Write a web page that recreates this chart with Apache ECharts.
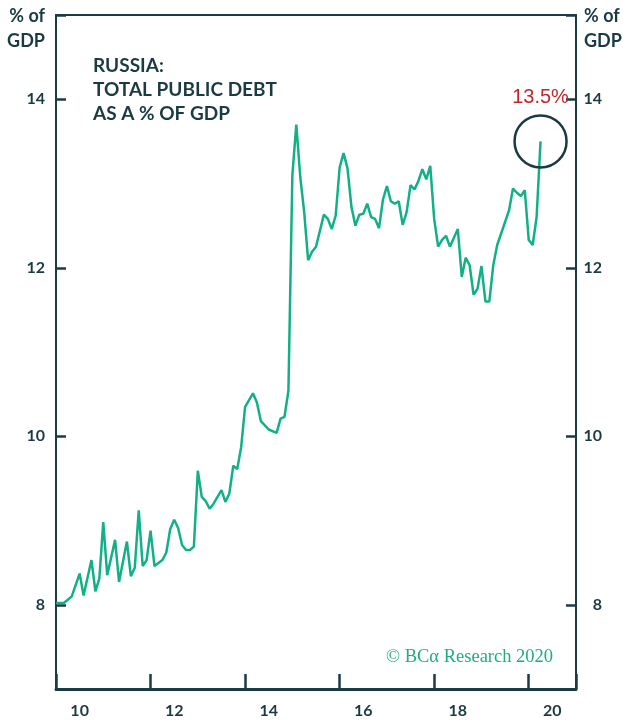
<!DOCTYPE html>
<html>
<head>
<meta charset="utf-8">
<script src="https://cdn.jsdelivr.net/npm/echarts@6/dist/echarts.min.js"></script>
<style>
  html, body { margin: 0; padding: 0; background: #ffffff; }
  #chart { width: 623px; height: 722px; }
</style>
</head>
<body>
<div id="chart"></div>
<script>
// Russia: total public debt, % of GDP (monthly readings)
const months = [
  '2010-01','2010-03','2010-05','2010-07','2010-08','2010-10','2010-11','2010-12',
  '2011-01','2011-02','2011-04','2011-05','2011-07','2011-08','2011-09','2011-10','2011-11','2011-12',
  '2012-01','2012-02','2012-04','2012-05','2012-06','2012-07','2012-08','2012-09','2012-10','2012-11','2012-12',
  '2013-01','2013-02','2013-03','2013-04','2013-05','2013-07','2013-08','2013-09','2013-10','2013-11','2013-12',
  '2014-01','2014-03','2014-04','2014-05','2014-07','2014-09','2014-10','2014-11','2014-12',
  '2015-01','2015-02','2015-03','2015-04','2015-05','2015-06','2015-07','2015-09','2015-10','2015-11','2015-12',
  '2016-01','2016-02','2016-03','2016-04','2016-05','2016-06','2016-07','2016-08','2016-09','2016-10','2016-11','2016-12',
  '2017-01','2017-02','2017-03','2017-04','2017-05','2017-06','2017-07','2017-08','2017-09','2017-10','2017-11','2017-12',
  '2018-01','2018-02','2018-03','2018-04','2018-05','2018-07','2018-08','2018-09','2018-10','2018-11','2018-12',
  '2019-01','2019-02','2019-03','2019-04','2019-05','2019-08','2019-09','2019-10','2019-11','2019-12',
  '2020-01','2020-02','2020-03','2020-04'
];
const debtPctGdp = [
  8.02, 8.02, 8.10, 8.37, 8.11, 8.53, 8.16, 8.31,
  8.98, 8.35, 8.77, 8.27, 8.75, 8.34, 8.44, 9.12, 8.46, 8.53,
  8.88, 8.46, 8.53, 8.62, 8.90, 9.01, 8.91, 8.71, 8.65, 8.65, 8.69,
  9.59, 9.28, 9.23, 9.14, 9.20, 9.36, 9.22, 9.32, 9.65, 9.61, 9.87,
  10.35, 10.51, 10.40, 10.18, 10.08, 10.04, 10.21, 10.23, 10.54,
  13.10, 13.70, 13.08, 12.66, 12.09, 12.19, 12.25, 12.63, 12.58, 12.46, 12.62,
  13.19, 13.36, 13.18, 12.72, 12.50, 12.63, 12.64, 12.76, 12.60, 12.58, 12.47, 12.81,
  12.97, 12.79, 12.76, 12.79, 12.51, 12.66, 12.98, 12.93, 13.03, 13.17, 13.05, 13.21,
  12.58, 12.25, 12.33, 12.38, 12.25, 12.46, 11.89, 12.12, 12.03, 11.68, 11.75,
  12.02, 11.60, 11.60, 12.03, 12.27, 12.68, 12.94, 12.89, 12.85, 12.92,
  12.33, 12.27, 12.60, 13.5
];
const yearLabels = ['10','11','12','13','14','15','16','17','18','19','20'];
const yTickValues = [8, 10, 12, 14, 15];
const yLabelValues = [8, 10, 12, 14];
const titleLines = ['RUSSIA:', 'TOTAL PUBLIC DEBT', 'AS A % OF GDP'];
const unitLines = ['% of', 'GDP'];
const sourceNote = '\u00A9 BC\u03B1 Research 2020';

const INK = '#1b3b44';
const GREEN = '#12b087';
const RED = '#c1272d';
const SANS = 'Lato, "Noto Sans", sans-serif';

// 'YYYY-MM' -> decimal year (month start)
function toYear(s) {
  const [y, m] = s.split('-').map(Number);
  return y + (m - 1) / 12;
}
const points = months.map((m, i) => [toYear(m), debtPctGdp[i]]);
const last = points[points.length - 1];

const chart = echarts.init(document.getElementById('chart'), null, { renderer: 'canvas' });

function yAxisCfg(pos) {
  const left = pos === 'left';
  return {
    type: 'value',
    position: pos,
    min: 7,
    max: 15,
    splitLine: { show: false },
    axisLine: { show: true, onZero: false, lineStyle: { color: INK, width: 2 } },
    axisTick: {
      show: true, inside: true, length: 10,
      customValues: yTickValues,
      lineStyle: { color: INK, width: 2.5 }
    },
    axisLabel: {
      show: true,
      customValues: yLabelValues,
      color: INK,
      fontFamily: SANS,
      fontWeight: 'bold',
      fontSize: 16,
      align: 'right',
      margin: left ? 11 : 26
    }
  };
}

const textEl = (text, x, y, align, font, fill) => ({
  type: 'text',
  x: x, y: y,
  style: { text: text, align: align, verticalAlign: 'middle', font: font, fill: fill }
});

const graphics = [];
unitLines.forEach((t, i) => {
  graphics.push(textEl(t, 45, 16 + i * 25, 'right', 'bold 18px ' + SANS, INK));
  graphics.push(textEl(t, 584, 16 + i * 25, 'left', 'bold 18px ' + SANS, INK));
});
titleLines.forEach((t, i) => {
  graphics.push(textEl(t, 93, 66 + i * 24, 'left', 'bold 19px ' + SANS, INK));
});
graphics.push(textEl(sourceNote, 386, 657, 'left', '18.5px "Liberation Serif", "DejaVu Serif", serif', '#1fae80'));

chart.setOption({
  animation: false,
  backgroundColor: '#ffffff',
  grid: { left: 56, right: 47, top: 15, bottom: 33 },
  xAxis: [
    {
      type: 'category',
      position: 'bottom',
      data: yearLabels,
      boundaryGap: true,
      axisLine: { show: true, lineStyle: { color: INK, width: 3 } },
      axisTick: { show: true, inside: true, length: 15, alignWithLabel: false, lineStyle: { color: INK, width: 2.5 } },
      axisLabel: {
        interval: 1, color: INK, fontFamily: SANS, fontWeight: 'bold', fontSize: 16, margin: 14
      },
      splitLine: { show: false }
    },
    {
      type: 'value',
      position: 'top',
      min: 2010,
      max: 2021,
      axisLine: { show: true, onZero: false, lineStyle: { color: INK, width: 2 } },
      axisTick: { show: false },
      axisLabel: { show: false },
      splitLine: { show: false }
    }
  ],
  yAxis: [yAxisCfg('left'), yAxisCfg('right')],
  series: [
    {
      type: 'line',
      xAxisIndex: 1,
      yAxisIndex: 0,
      data: points,
      showSymbol: false,
      lineStyle: { color: GREEN, width: 2.5 },
      itemStyle: { color: GREEN },
      markPoint: {
        silent: true,
        data: [{
          coord: last,
          symbol: 'circle',
          symbolSize: 52,
          itemStyle: { color: 'rgba(0,0,0,0)', borderColor: INK, borderWidth: 2.5 },
          label: {
            show: true,
            position: 'top',
            distance: 7,
            formatter: last[1].toFixed(1) + '%',
            color: RED,
            fontFamily: '"Liberation Sans", Arial, sans-serif',
            fontSize: 20
          }
        }]
      }
    }
  ],
  graphic: graphics
});
</script>
</body>
</html>
